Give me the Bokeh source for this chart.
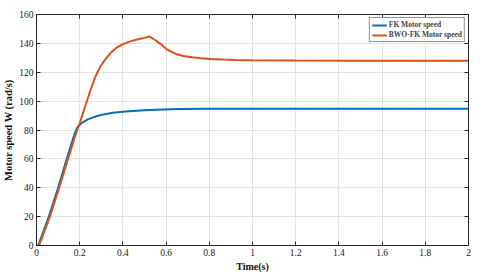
from bokeh.plotting import figure
from bokeh.models import Range1d, LinearAxis, FixedTicker, Legend, LegendItem
from bokeh.embed import file_html
from bokeh.resources import INLINE

# ---- data ----
fk_t = [0, 0.008, 0.057, 0.1, 0.14, 0.178, 0.186, 0.195, 0.205, 0.215, 0.24, 0.277, 0.31, 0.353, 0.4,
        0.43, 0.5, 0.584, 0.668, 0.8, 1.0, 2.0]
fk_w = [0, 0, 20, 40, 60, 78, 81, 82.8, 84.3, 85.4, 87.5, 89.5, 90.8, 91.9, 92.6,
        93.0, 93.6, 94.2, 94.6, 94.7, 94.7, 94.7]

bwo_t = [0, 0.012, 0.062, 0.105, 0.146, 0.188, 0.2, 0.22, 0.24, 0.26, 0.277, 0.3, 0.323, 0.345, 0.369,
         0.4, 0.431, 0.47, 0.5, 0.523, 0.553, 0.575, 0.6, 0.625, 0.645, 0.68, 0.722, 0.76, 0.806,
         0.86, 0.922, 1.0, 1.2, 1.5, 2.0]
bwo_w = [0, 0, 20, 40, 60, 80, 84.5, 94, 103, 112, 118.5, 125, 129.8, 133.6, 136.8,
         139.4, 141.2, 142.9, 143.8, 144.7, 142, 139.5, 136.2, 134.2, 132.7, 131.3, 130.4, 129.7, 129.2,
         128.8, 128.5, 128.3, 128.1, 128.0, 128.0]

x_ticks = [0, 0.2, 0.4, 0.6, 0.8, 1.0, 1.2, 1.4, 1.6, 1.8, 2.0]
x_tick_labels = ["0", "0.2", "0.4", "0.6", "0.8", "1", "1.2", "1.4", "1.6", "1.8", "2"]
y_ticks = [0, 20, 40, 60, 80, 100, 120, 140, 160]

series_names = ["FK Motor speed", "BWO-FK Motor speed"]
colors = ["#0072BD", "#D95319"]

FONT = "Liberation Serif"
AXC = "#262626"

p = figure(width=480, height=275, output_backend="svg", toolbar_location=None,
           x_range=Range1d(0, 2), y_range=Range1d(0, 160),
           min_border_left=33, min_border_right=12, min_border_top=14, min_border_bottom=30)
p.background_fill_color = "white"
p.border_fill_color = "white"
p.outline_line_color = AXC
p.outline_line_width = 1

r1 = p.line(fk_t, fk_w, line_color=colors[0], line_width=2)
r2 = p.line(bwo_t, bwo_w, line_color=colors[1], line_width=2)

# axes
p.xaxis.ticker = FixedTicker(ticks=x_ticks)
p.xaxis.major_label_overrides = {t: l for t, l in zip(x_ticks, x_tick_labels)}
p.yaxis.ticker = FixedTicker(ticks=y_ticks)
p.xaxis.axis_label = "Time(s)"
p.yaxis.axis_label = "Motor speed W (rad/s)"
for ax in [p.xaxis[0], p.yaxis[0]]:
    ax.axis_line_color = AXC
    ax.major_tick_line_color = AXC
    ax.major_tick_in = 4
    ax.major_tick_out = 0
    ax.minor_tick_line_color = None
    ax.major_label_text_font = FONT
    ax.major_label_text_font_size = "9.5px"
    ax.major_label_text_color = "#222222"
    ax.major_label_standoff = 3
    ax.axis_label_text_font = FONT
    ax.axis_label_text_font_style = "bold"
    ax.axis_label_text_color = "#111111"
    ax.axis_label_standoff = 2
p.xaxis.axis_label_text_font_size = "10px"
p.yaxis.axis_label_text_font_size = "10.5px"

# box ticks on top and right (minor ticks only, so no labels)
top = LinearAxis(ticker=FixedTicker(ticks=[], minor_ticks=x_ticks),
                 minor_tick_in=4, minor_tick_out=0, minor_tick_line_color=AXC,
                 axis_line_color=AXC, major_tick_line_color=None)
right = LinearAxis(ticker=FixedTicker(ticks=[], minor_ticks=y_ticks),
                   minor_tick_in=4, minor_tick_out=0, minor_tick_line_color=AXC,
                   axis_line_color=AXC, major_tick_line_color=None)
p.add_layout(top, "above")
p.add_layout(right, "right")

p.xgrid.ticker = FixedTicker(ticks=x_ticks)
p.ygrid.ticker = FixedTicker(ticks=y_ticks)
p.grid.grid_line_color = "#e3e3e3"
p.grid.grid_line_width = 1

legend = Legend(items=[LegendItem(label=series_names[0], renderers=[r1]),
                       LegendItem(label=series_names[1], renderers=[r2])],
                location="top_right")
legend.label_text_font = FONT
legend.label_text_font_style = "bold"
legend.label_text_font_size = "7.5px"
legend.label_height = 8
legend.glyph_height = 8
legend.glyph_width = 15
legend.label_standoff = 2
legend.spacing = 1
legend.padding = 2
legend.margin = 3
legend.border_line_color = AXC
legend.border_line_width = 1
legend.background_fill_alpha = 1
p.add_layout(legend)

open("out.html", "w").write(file_html(p, INLINE))
